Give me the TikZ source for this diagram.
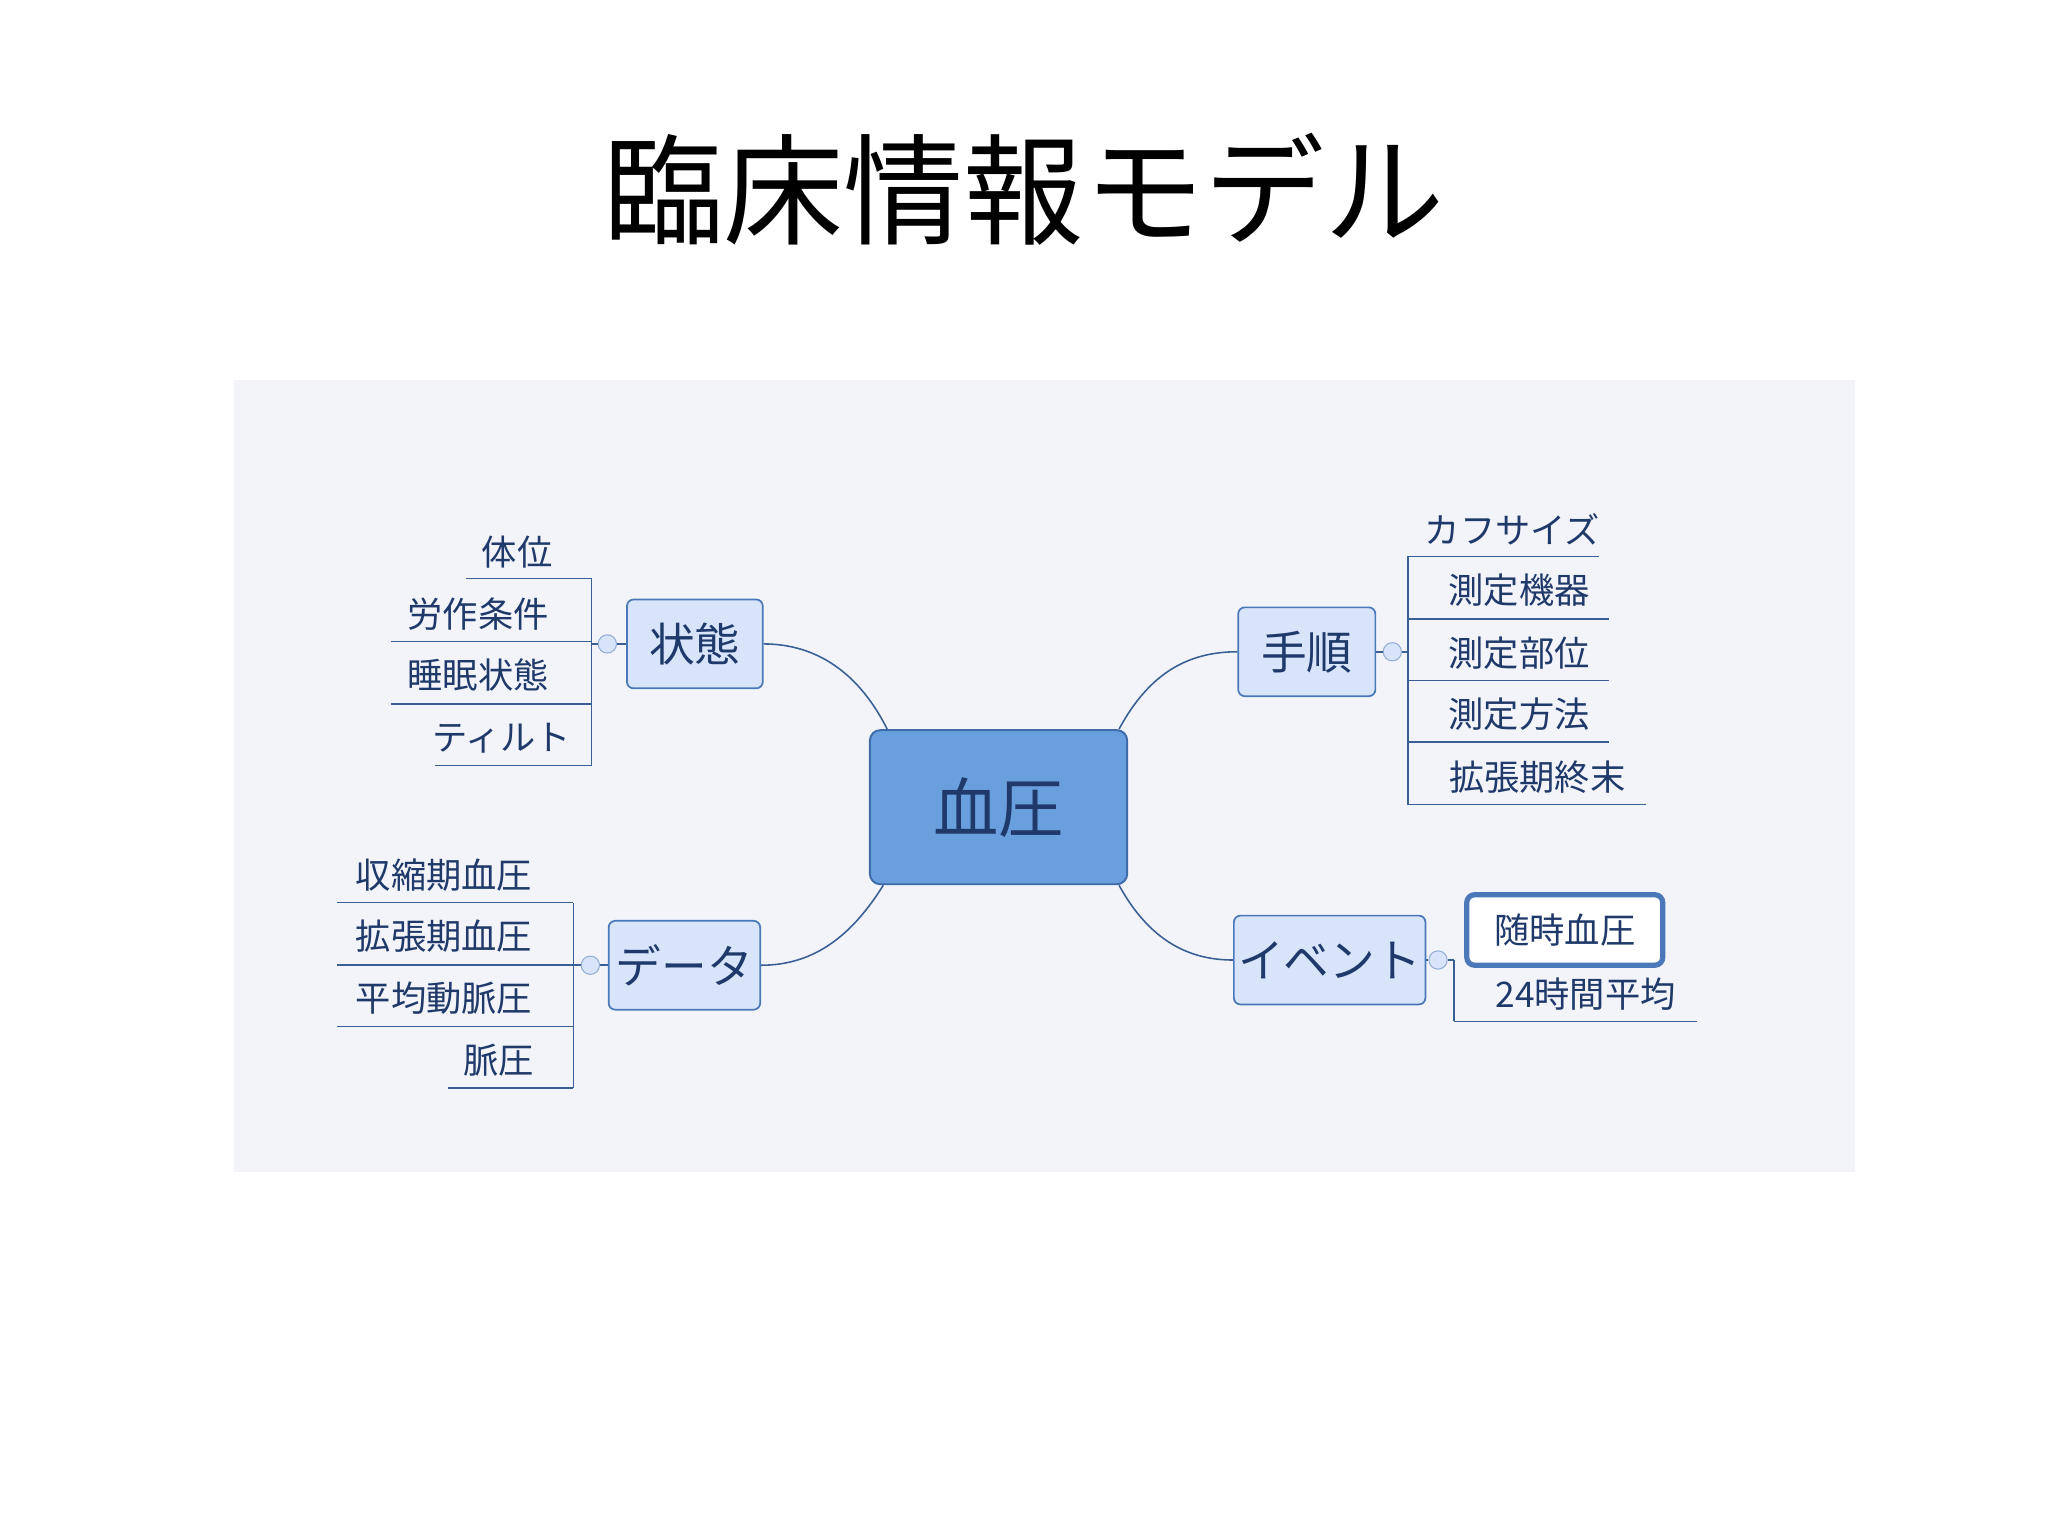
\documentclass[tikz,border=0pt]{standalone}
\usepackage{fontspec}
\setmainfont{Noto Sans CJK JP}
\definecolor{bg}{HTML}{F3F4FA}
\definecolor{ctrfill}{HTML}{6A9FDD}
\definecolor{ctrdraw}{HTML}{3D6CA8}
\definecolor{brfill}{HTML}{D7E4FA}
\definecolor{brdraw}{HTML}{4A78B8}
\definecolor{txt}{HTML}{1F3A6A}
\definecolor{lnk}{HTML}{3A5F94}
\tikzset{
 center/.style={draw=ctrdraw,line width=1.5pt,fill=ctrfill,rounded corners=8pt,minimum width=197pt,minimum height=118pt,text=txt,font=\fontsize{50}{50}\selectfont},
 branch/.style={draw=brdraw,line width=1.3pt,fill=brfill,rounded corners=5pt,minimum height=68pt,text=txt,font=\fontsize{35}{35}\selectfont},
 leaf/.style={text=txt,font=\fontsize{27}{27}\selectfont,inner sep=0pt},
 ul/.style={draw=lnk,line width=1.2pt},
 conn/.style={draw=lnk,line width=1.2pt},
 knob/.style={circle,draw=brdraw!60,fill=brfill,minimum size=14pt,inner sep=0pt,line width=0.8pt},
}
\begin{document}
\begin{tikzpicture}[x=1pt,y=-1pt]
\useasboundingbox (0,0) rectangle (1568,1176);
\fill[white] (0,0) rectangle (1568,1176);
\node[font=\fontsize{92}{92}\selectfont] (title) at (784,145) {臨床情報モデル};
\fill[bg] (179,291) rectangle (1420,897);
\node[center] (c) at (764.5,618) {血圧};
\node[branch,minimum width=104pt] (s) at (532,493) {状態};
\node[branch,minimum width=105pt] (h) at (1000.5,499) {手順};
\node[branch,minimum width=116pt] (d) at (524,739) {データ};
\node[branch,minimum width=140pt] (e) at (1018,735) {イベント};
\draw[conn] (c.north west)++(14,0) coordinate (c1) .. controls (655,510) and (620,493) .. (s.east);
\draw[conn] (c.north east)++(-7,0) coordinate (c2) .. controls (880,515) and (910,499) .. (h.west);
\draw[conn] (c.south west)++(11,0) coordinate (c3) .. controls (650,720) and (620,739) .. (d.east);
\draw[conn] (c.south east)++(-7,0) coordinate (c4) .. controls (880,720) and (910,735) .. (e.west);
% state leaves
\node[knob] (ks) at (465,493) {};
\draw[conn] (s.west) -- (ks) -- (453,493);
\draw[ul] (453,443) -- (453,586);
\node[leaf] (s1) at (396,423) {体位}; \draw[ul] (357,443) -- (453,443);
\node[leaf] (s2) at (366,470) {労作条件}; \draw[ul] (299,491) -- (453,491);
\node[leaf] (s3) at (366,517) {睡眠状態}; \draw[ul] (299,539) -- (453,539);
\node[leaf] (s4) at (384,565) {ティルト}; \draw[ul] (333,586) -- (453,586);
% procedure leaves
\node[knob] (kh) at (1066,499) {};
\draw[conn] (h.east) -- (kh) -- (1078,499);
\draw[ul] (1078,426) -- (1078,616);
\node[leaf] (h1) at (1158,405) {カフサイズ}; \draw[ul] (1078,426) -- (1224,426);
\node[leaf] (h2) at (1163,452) {測定機器}; \draw[ul] (1078,474) -- (1232,474);
\node[leaf] (h3) at (1163,500) {測定部位}; \draw[ul] (1078,521) -- (1232,521);
\node[leaf] (h4) at (1163,547) {測定方法}; \draw[ul] (1078,568) -- (1232,568);
\node[leaf] (h5) at (1177,595) {拡張期終末}; \draw[ul] (1078,616) -- (1260,616);
% data leaves
\node[knob] (kd) at (452,739) {};
\draw[conn] (d.west) -- (kd) -- (439,739);
\draw[ul] (439,691) -- (439,833);
\node[leaf] (d1) at (340,670) {収縮期血圧}; \draw[ul] (258,691) -- (439,691);
\node[leaf] (d2) at (340,717) {拡張期血圧}; \draw[ul] (258,739) -- (439,739);
\node[leaf] (d3) at (340,764) {平均動脈圧}; \draw[ul] (258,786) -- (439,786);
\node[leaf] (d4) at (382,812) {脈圧}; \draw[ul] (343,833) -- (439,833);
% event leaves
\node[knob] (ke) at (1101,735) {};
\draw[conn] (e.east) -- (ke) -- (1113,735);
\draw[ul] (1113,735) -- (1113,782);
\node[draw=brdraw,line width=4pt,rounded corners=6pt,fill=white,minimum width=150pt,minimum height=54pt,text=txt,font=\fontsize{27}{27}\selectfont] (e1) at (1198,712) {随時血圧};
\node[leaf] (e2) at (1214,761) {24時間平均}; \draw[ul] (1113,782) -- (1299,782);
\end{tikzpicture}
\end{document}
